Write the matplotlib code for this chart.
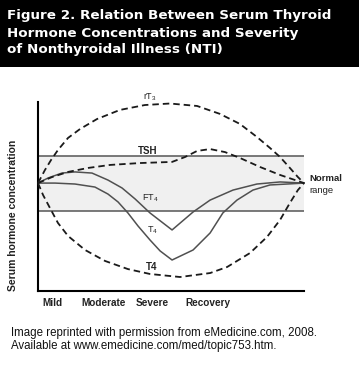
import numpy as np
import matplotlib
matplotlib.use("Agg")
import matplotlib.pyplot as plt
from matplotlib.patches import Rectangle

plt.rcParams['font.family'] = ['Liberation Sans', 'DejaVu Sans']
plt.rcParams['mathtext.fontset'] = 'custom'
plt.rcParams['mathtext.rm'] = 'Liberation Sans'
plt.rcParams['mathtext.default'] = 'regular'

# severity axis 0..10, concentration 0..100 (arbitrary units)
rt3_x = [0, .26, .49, .75, 1.13, 1.58, 2.22, 3.08, 4.02, 4.96, 5.98, 6.84, 7.59, 8.23, 8.72, 9.10, 9.47, 9.77, 10]
rt3_y = [57.1, 64.0, 69.3, 74.6, 81.0, 85.7, 91.0, 95.8, 98.4, 99.2, 97.9, 93.7, 88.4, 81.5, 75.7, 70.9, 65.1, 60.3, 57.1]

tsh_x = [0, .53, 1.13, 1.88, 2.71, 3.83, 5.04, 5.53, 5.98, 6.47, 7.03, 7.59, 8.35, 9.10, 10]
tsh_y = [57.1, 60.3, 63.0, 65.1, 66.7, 67.7, 68.3, 70.9, 74.1, 75.1, 73.5, 70.4, 65.6, 61.4, 57.1]

ft4_x = [0, .38, .90, 1.39, 2.03, 2.63, 3.16, 3.65, 4.21, 5.04, 5.83, 6.47, 7.33, 8.23, 9.10, 10]
ft4_y = [57.1, 59.8, 62.4, 63.0, 62.4, 58.7, 54.5, 48.7, 41.3, 32.3, 41.8, 48.1, 53.4, 56.6, 57.7, 57.1]

t4_x = [0, .64, 1.39, 2.14, 2.63, 3.01, 3.38, 3.76, 4.21, 4.59, 5.04, 5.83, 6.47, 6.95, 7.48, 8.08, 8.72, 10]
t4_y = [57.1, 57.1, 56.6, 55.0, 51.3, 47.1, 41.3, 34.4, 27.0, 21.2, 16.4, 21.7, 30.7, 41.3, 48.1, 53.4, 56.1, 57.1]

t4d_x = [0, .19, .45, .75, 1.13, 1.77, 2.52, 3.38, 4.21, 5.34, 6.47, 7.11, 7.97, 8.61, 9.10, 9.47, 9.77, 10]
t4d_y = [57.1, 50.8, 43.9, 36.0, 29.1, 21.7, 15.9, 11.6, 9.0, 7.4, 9.5, 12.7, 20.1, 28.6, 37.6, 46.6, 53.4, 57.1]

normal_lo, normal_hi = 42.5, 71.5

stage_labels = ['Mild', 'Moderate', 'Severe', 'Recovery']
stage_pos = [0.56, 2.48, 4.29, 6.39]

title_lines = ['Figure 2. Relation Between Serum Thyroid',
               'Hormone Concentrations and Severity',
               'of Nonthyroidal Illness (NTI)']
caption_lines = ['Image reprinted with permission from eMedicine.com, 2008.',
                 'Available at www.emedicine.com/med/topic753.htm.']

W, H = 359, 367
fig = plt.figure(figsize=(W / 100, H / 100), dpi=100)
fig.patch.set_facecolor('white')

# black header
fig.add_artist(Rectangle((0, 1 - 67 / H), 1, 67 / H, transform=fig.transFigure,
                         facecolor='black', edgecolor='none'))
for i, line in enumerate(title_lines):
    fig.text(7 / W, 1 - (19.5 + 17 * i) / H, line, color='white', fontsize=9.7,
             fontweight='bold', family='DejaVu Sans', va='baseline', ha='left')

ax = fig.add_axes([38 / W, 1 - 291 / H, 266 / W, 189 / H])
ax.set_xlim(0, 10)
ax.set_ylim(0, 100)
ax.patch.set_alpha(0)
for s in ['top', 'right']:
    ax.spines[s].set_visible(False)
for s in ['left', 'bottom']:
    ax.spines[s].set_linewidth(1.5)
    ax.spines[s].set_color('black')
ax.set_xticks([])
ax.set_yticks([])

# normal range band
ax.axhspan(normal_lo, normal_hi, color='#f0f0f0', lw=0, zorder=0)
ax.axhline(normal_lo, color='#555555', lw=1.1, zorder=1)
ax.axhline(normal_hi, color='#555555', lw=1.1, zorder=1)

dash_kw = dict(color='#1a1a1a', lw=1.3, dashes=(3.6, 2.2), clip_on=False, zorder=3,
               solid_joinstyle='round', dash_joinstyle='round')
solid_kw = dict(color='#505050', lw=1.1, clip_on=False, zorder=2, solid_joinstyle='round')
ax.plot(rt3_x, rt3_y, **dash_kw)
ax.plot(tsh_x, tsh_y, **dash_kw)
ax.plot(t4d_x, t4d_y, **dash_kw)
ax.plot(ft4_x, ft4_y, **solid_kw)
ax.plot(t4_x, t4_y, **solid_kw)

lab = dict(ha='center', va='center', color='#222222', clip_on=False)
ax.text(4.21, 102.6, 'rT$_3$', fontsize=6.5, **lab)
ax.text(4.14, 74.0, 'TSH', fontsize=7, fontweight='bold', **lab)
ax.text(4.21, 49.2, 'FT$_4$', fontsize=6.5, **lab)
ax.text(4.29, 32.3, 'T$_4$', fontsize=6.5, **lab)
ax.text(4.29, 12.6, 'T4', fontsize=7, fontweight='bold', **lab)
ax.text(10.2, 59.5, 'Normal', fontsize=6.8, fontweight='bold', ha='left', va='center',
        color='#222222', clip_on=False)
ax.text(10.2, 53.2, 'range', fontsize=6.8, ha='left', va='center',
        color='#222222', clip_on=False)

for name, xp in zip(stage_labels, stage_pos):
    ax.text(xp, -6.3, name, fontsize=7.2, fontweight='bold', ha='center', va='center',
            color='#222222', clip_on=False)

fig.text(13 / W, 1 - 215 / H, 'Serum hormone concentration', rotation=90, fontsize=7.5,
         fontweight='bold', ha='center', va='center', color='#222222')

for i, line in enumerate(caption_lines):
    fig.text(11 / W, 1 - (333 + 13 * i) / H, line, fontsize=8.3, ha='left', va='center',
             color='#111111')

fig.savefig('out.png', dpi=100, facecolor='white')
